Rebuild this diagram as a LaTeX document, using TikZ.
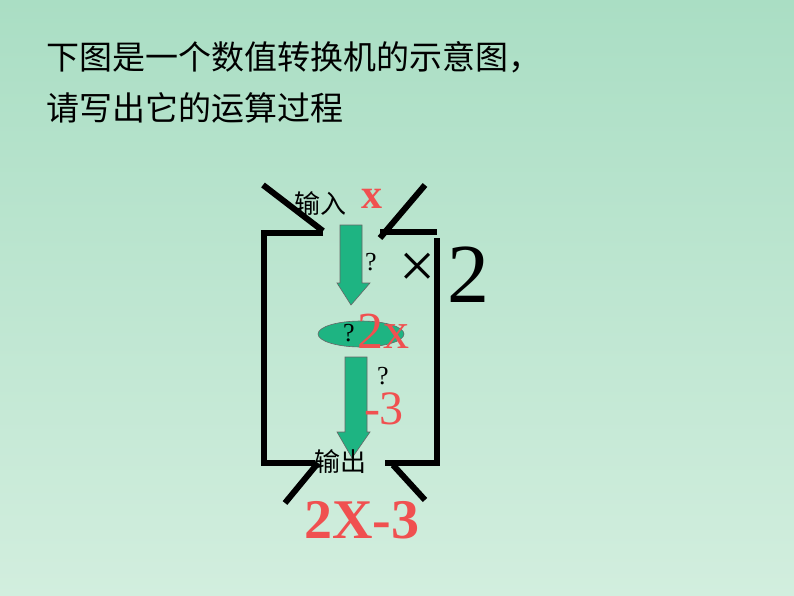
\documentclass[tikz,border=0pt]{standalone}
\usepackage{fontspec}
\setmainfont{Liberation Serif}
\newfontfamily\cjk{Noto Sans CJK SC}
\usetikzlibrary{shapes.geometric}
\definecolor{bgtop}{RGB}{170,222,196}
\definecolor{bgbot}{RGB}{210,238,222}
\definecolor{arr}{RGB}{30,180,130}
\definecolor{redt}{RGB}{240,80,80}
\begin{document}
\begin{tikzpicture}[x=1pt,y=-1pt,
  frame/.style={line width=6pt},
  garrow/.style={fill=arr,draw=black!60,line width=0.6pt},
  lbl/.style={inner sep=0pt,anchor=center},
  red/.style={text=redt}]
\shade[top color=bgtop,bottom color=bgbot] (0,0) rectangle (794,596);
\useasboundingbox (0,0) rectangle (794,596);
\node[lbl,anchor=west,font=\cjk\fontsize{33}{38}\selectfont] (t1) at (46,57) {下图是一个数值转换机的示意图，};
\node[lbl,anchor=west,font=\cjk\fontsize{33}{38}\selectfont] (t2) at (46,108) {请写出它的运算过程};
% frame
\draw[frame] (323,233) -- (264,233) -- (264,463) -- (315,463);
\draw[frame] (380,232) -- (437,232);
\draw[frame] (437,238) -- (437,463) -- (385,463);
\draw[frame] (263,185) -- (323,231);
\draw[frame] (380,238) -- (425,185);
\draw[frame] (318,463) -- (285,503);
\draw[frame] (393,465) -- (425,500);
% arrows
\draw[garrow] (340,225) -- (362,225) -- (362,283) -- (370,283) -- (351,305) -- (337,283) -- (340,283) -- cycle;
\draw[garrow] (345,357) -- (367,357) -- (367,432) -- (370,432) -- (352,458) -- (337,432) -- (345,432) -- cycle;
\node[ellipse,fill=arr,draw=black!60,line width=0.6pt,minimum width=86pt,minimum height=26pt] (e) at (361,334) {};
% texts
\node[lbl,font=\cjk\fontsize{26}{30}\selectfont] (in) at (320,204) {输入};
\node[lbl,red,font=\bfseries\fontsize{42}{46}\selectfont] (x) at (372,199) {x};
\node[lbl,font=\fontsize{26}{30}\selectfont] (q1) at (371,262) {?};
\node[lbl,font=\fontsize{64}{68}\selectfont] (times) at (418,270) {×};
\node[lbl,font=\fontsize{84}{88}\selectfont] (two) at (468,275) {2};
\node[lbl,font=\fontsize{26}{30}\selectfont] (q2) at (349,333) {?};
\node[lbl,red,font=\fontsize{52}{56}\selectfont] (tx) at (383,331) {2x};
\node[lbl,font=\fontsize{26}{30}\selectfont] (q3) at (383,376) {?};
\node[lbl,red,font=\fontsize{48}{52}\selectfont] (m3) at (384,409) {-3};
\node[lbl,font=\cjk\fontsize{26}{30}\selectfont] (out) at (340,462) {输出};
\node[lbl,red,font=\bfseries\fontsize{56}{60}\selectfont] (res) at (362,520) {2X-3};
\end{tikzpicture}
\end{document}
